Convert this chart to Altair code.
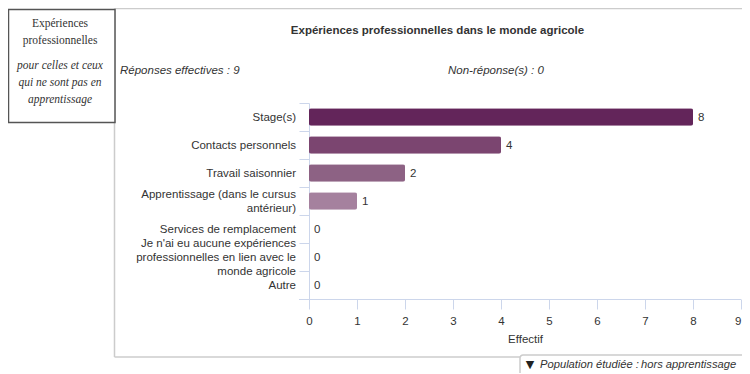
import altair as alt
import pandas as pd

categories = ["Stage(s)", "Contacts personnels", "Travail saisonnier",
              "Apprentissage (dans le cursus antérieur)", "Services de remplacement",
              "Je n'ai eu aucune expériences professionnelles en lien avec le monde agricole", "Autre"]
category_lines = [["Stage(s)"], ["Contacts personnels"], ["Travail saisonnier"],
                  ["Apprentissage (dans le cursus", "antérieur)"], ["Services de remplacement"],
                  ["Je n'ai eu aucune expériences", "professionnelles en lien avec le", "monde agricole"],
                  ["Autre"]]
values = [8, 4, 2, 1, 0, 0, 0]
bar_colors = ["#63255A", "#7B4570", "#8D6284", "#A5819E", "#BBA0B6", "#CDB9C9", "#DDD0DA"]
x_ticks = list(range(10))

FONT = "Liberation Sans"
SERIF = "Liberation Serif"
TXT = "#333333"
AXC = "#CCD6EB"
FRAME = "#CCCCCC"
FS = 11.5
LH = 14

# plot area origin in the page is (309, 103); the helpers convert page pixels
PX, PY = 309, 103
fx = lambda v: alt.value(v - PX)
fy = lambda v: alt.value(v - PY)

df = pd.DataFrame({"cat": categories, "val": values})
empty = pd.DataFrame({"a": [0]})

x_scale = alt.Scale(domain=[0, 9], nice=False)
y_scale = alt.Scale(domain=categories, paddingInner=0, paddingOuter=0)


def text(t, x, y, **kw):
    kw.setdefault("font", FONT)
    kw.setdefault("fontSize", FS)
    kw.setdefault("color", TXT)
    kw.setdefault("baseline", "middle")
    return alt.Chart(empty).mark_text(text=t, **kw).encode(x=fx(x), y=fy(y + 1))


def line(x1, x2, y1, y2, color=FRAME, w=1.5):
    return alt.Chart(empty).mark_rule(color=color, strokeWidth=w).encode(
        x=fx(x1), x2=fx(x2), y=fy(y1), y2=fy(y2))


bars = alt.Chart(df).mark_bar(size=17.5, cornerRadius=2).encode(
    x=alt.X("val:Q", scale=x_scale, title="Effectif",
            axis=alt.Axis(values=x_ticks, format="d", grid=False, domain=False,
                          tickColor=AXC, tickSize=10, labelColor=TXT, labelFont=FONT,
                          labelFontSize=FS, labelPadding=6,
                          labelAlign={"condition": {"test": "datum.value == 9", "value": "right"},
                                      "value": "center"},
                          titleFont=FONT, titleFontSize=FS, titleFontWeight="normal",
                          titleColor=TXT, titlePadding=7)),
    y=alt.Y("cat:N", sort=categories, scale=y_scale, title=None,
            axis=alt.Axis(tickBand="extent", tickColor=AXC, tickSize=10, domainColor=AXC,
                          labels=False)),
    color=alt.Color("cat:N", sort=categories, legend=None,
                    scale=alt.Scale(domain=categories, range=bar_colors)),
)

labels = alt.Chart(df).mark_text(align="left", dx=5, dy=1, baseline="middle", font=FONT,
                                 fontSize=FS, color=TXT).encode(
    x=alt.X("val:Q", scale=x_scale),
    y=alt.Y("cat:N", sort=categories, scale=y_scale),
    text="val:Q",
)

# Category labels: one table row per text line, grouped by its offset from the band centre
rows = []
for cat, lines in zip(categories, category_lines):
    for i, ln in enumerate(lines):
        rows.append({"cat": cat, "line": ln, "dy": (i - (len(lines) - 1) / 2) * LH})
rows = pd.DataFrame(rows)
cat_layers = [
    alt.Chart(rows[rows["dy"] == dy]).mark_text(align="right", baseline="middle", dy=dy + 1, font=FONT,
                                               fontSize=FS, color=TXT).encode(
        x=alt.value(-13),
        y=alt.Y("cat:N", sort=categories, scale=y_scale, title=None),
        text="line:N",
    )
    for dy in sorted(rows["dy"].unique())
]

layers = [
    line(114.5, 742, 8.5, 8.5),
    line(114.5, 114.5, 8.5, 357),
    line(114.5, 520, 357, 357),
    alt.Chart(empty).mark_rect(fill="white", stroke="#555555", strokeWidth=1.5).encode(
        x=fx(8.5), x2=fx(115), y=fy(9.5), y2=fy(122.5)),
    text("Expériences", 60, 23, font=SERIF, align="center"),
    text("professionnelles", 60, 40, font=SERIF, align="center"),
    text("pour celles et ceux", 60, 65, font=SERIF, fontStyle="italic", align="center"),
    text("qui ne sont pas en", 60, 82, font=SERIF, fontStyle="italic", align="center"),
    text("apprentissage", 60, 99, font=SERIF, fontStyle="italic", align="center"),
    text("Expériences professionnelles dans le monde agricole", 437.5, 30,
         fontWeight="bold", align="center"),
    text("Réponses effectives : 9", 120, 70, fontStyle="italic", align="left"),
    text("Non-réponse(s) : 0", 448, 70, fontStyle="italic", align="left"),
    line(299, 741, 299.5, 299.5, color=AXC, w=1),
    bars,
    labels,
    *cat_layers,
    alt.Chart(empty).mark_rect(fill="white", stroke=FRAME, strokeWidth=1.5, cornerRadius=3).encode(
        x=fx(520), x2=fx(760), y=fy(355), y2=fy(385)),
    text("▼", 530, 364, font="DejaVu Sans", fontSize=11, color="#222222", align="center"),
    text("Population étudiée : ", 540, 364, fontSize=11.2, fontStyle="italic", align="left"),
    text("hors apprentissage", 641, 364, fontSize=11.2, fontStyle="italic", fontWeight=500, align="left"),
]

chart = alt.layer(*layers).resolve_scale(color="independent").properties(
    width=432, height=196,
    padding={"left": 301, "top": 95, "right": 1, "bottom": 74},
    autosize=alt.AutoSizeParams(type="none"),
).configure_view(stroke=None)

chart.save("out.html", embed_options={"renderer": "svg", "actions": False})
